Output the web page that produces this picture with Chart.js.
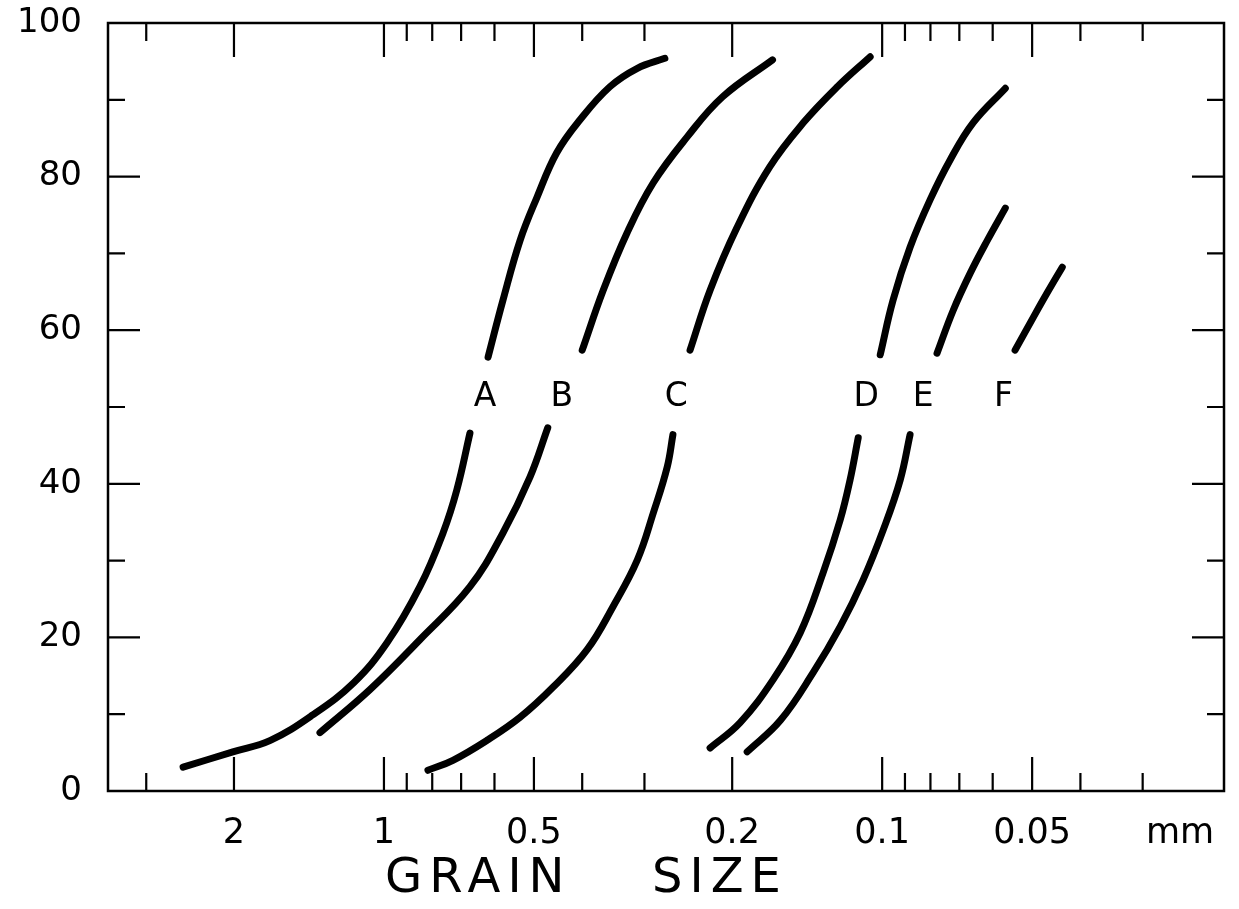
<!DOCTYPE html>
<html>
<head>
<meta charset="utf-8">
<script src="https://cdn.jsdelivr.net/npm/chart.js@4"></script>
<style>
  body { margin: 0; background: #fff; }
  canvas { display: block; }
</style>
</head>
<body>
<canvas id="grainChart" width="1239" height="909"></canvas>
<script>
// grain size (mm) vs cumulative percent
// each curve is broken around 50% where its letter sits
const curveA1 = [[2.53,3.1],[2.01,5.1],[1.69,6.6],[1.39,9.9],[1.15,14.1],[0.986,19.3],[0.847,26.6],[0.761,33.6],[0.714,39.2],[0.672,46.6]];
const curveA2 = [[0.618,56.5],[0.577,63.9],[0.533,71.7],[0.493,77.3],[0.450,83.1],[0.404,87.4],[0.352,91.7],[0.310,94.1],[0.273,95.4]];
const curveB1 = [[1.344,7.6],[1.067,13.2],[0.847,19.7],[0.672,26.6],[0.577,33.6],[0.509,40.9],[0.469,47.3]];
const curveB2 = [[0.400,57.4],[0.363,65.2],[0.325,72.7],[0.288,79.2],[0.246,85.2],[0.209,90.4],[0.166,95.2]];
const curveC1 = [[0.816,2.7],[0.727,4.0],[0.621,6.6],[0.533,9.6],[0.458,13.5],[0.391,18.4],[0.347,24.0],[0.310,30.1],[0.288,36.2],[0.270,42.2],[0.263,46.4]];
const curveC2 = [[0.243,57.4],[0.2215,65.2],[0.1955,73.4],[0.168,81.3],[0.144,87.0],[0.123,91.7],[0.1057,95.6]];
const curveD1 = [[0.2215,5.6],[0.1928,8.9],[0.1655,14.5],[0.146,20.6],[0.1314,28.4],[0.1214,35.3],[0.116,40.5],[0.1117,46.0]];
const curveD2 = [[0.1009,56.8],[0.0951,63.9],[0.0879,70.8],[0.0801,77.0],[0.0730,82.2],[0.0657,87.0],[0.0566,91.5]];
const curveE1 = [[0.1866,5.1],[0.160,9.2],[0.1376,15.4],[0.1214,21.4],[0.1092,27.5],[0.0995,34.0],[0.092,40.5],[0.0879,46.4]];
const curveE2 = [[0.0776,57.0],[0.0720,62.6],[0.0666,67.4],[0.0615,71.7],[0.0566,75.9]];
const curveF = [[0.0541,57.4],[0.0497,61.7],[0.0467,64.8],[0.0435,68.2]];

const curveNames = ["A", "B", "C", "D", "E", "F"];
const curveLabelSize = [0.627, 0.4395, 0.259, 0.1077, 0.0827, 0.0571];
const curveLabelPct = 51.3;

// x axis ticks (mm)
const xMajor = [2, 1, 0.5, 0.2, 0.1, 0.05];
const xMinor = [3, 0.9, 0.8, 0.7, 0.6, 0.4, 0.3, 0.09, 0.08, 0.07, 0.06, 0.04, 0.03];
const xLabels = ["2", "1", "0.5", "0.2", "0.1", "0.05"];
// y axis ticks (%)
const yTicks = [0, 10, 20, 30, 40, 50, 60, 70, 80, 90, 100];
const yLabels = ["0", "", "20", "", "40", "", "60", "", "80", "", "100"];

const FONT = "'DejaVu Sans', sans-serif";

function toPoints(arr) {
  return arr.map((p) => ({ x: p[0], y: p[1] }));
}

const segments = [curveA1, curveA2, curveB1, curveB2, curveC1, curveC2,
  curveD1, curveD2, curveE1, curveE2, curveF];

const datasets = segments.map((seg) => ({
  data: toPoints(seg),
  borderColor: "#000",
  borderWidth: 7,
  borderCapStyle: "round",
  borderJoinStyle: "round",
  pointRadius: 0,
  fill: false,
  tension: 0.4,
}));

// frame, inward ticks, curve letters, axis title
const decorations = {
  id: "decorations",
  afterDraw(chart) {
    const ctx = chart.ctx;
    const area = chart.chartArea;
    const xs = chart.scales.x;
    const ys = chart.scales.y;
    ctx.save();
    ctx.strokeStyle = "#000";
    ctx.lineWidth = 2.5;
    ctx.strokeRect(area.left, area.top, area.right - area.left, area.bottom - area.top);

    ctx.lineWidth = 2.2;
    ctx.beginPath();
    const allX = xMajor.map((v) => [v, 34]).concat(xMinor.map((v) => [v, 18]));
    allX.forEach(([v, len]) => {
      const px = xs.getPixelForValue(v);
      ctx.moveTo(px, area.bottom);
      ctx.lineTo(px, area.bottom - len);
      ctx.moveTo(px, area.top);
      ctx.lineTo(px, area.top + len);
    });
    yTicks.forEach((v) => {
      if (v === 0 || v === 100) return;
      const py = ys.getPixelForValue(v);
      const len = v % 20 === 0 ? 32 : 17;
      ctx.moveTo(area.left, py);
      ctx.lineTo(area.left + len, py);
      ctx.moveTo(area.right, py);
      ctx.lineTo(area.right - len, py);
    });
    ctx.stroke();

    ctx.fillStyle = "#000";
    ctx.textAlign = "center";
    ctx.textBaseline = "middle";
    ctx.font = "33px " + FONT;
    curveNames.forEach((name, i) => {
      ctx.fillText(name, xs.getPixelForValue(curveLabelSize[i]), ys.getPixelForValue(curveLabelPct));
    });

    ctx.font = "35px " + FONT;
    ctx.fillText("mm", 1180, 834);

    ctx.font = "48px " + FONT;
    ctx.letterSpacing = "7px";
    ctx.textAlign = "left";
    ctx.fillText("GRAIN", 385, 880);
    ctx.fillText("SIZE", 652, 880);
    ctx.restore();
  },
};

new Chart(document.getElementById("grainChart"), {
  type: "line",
  data: { datasets },
  options: {
    responsive: false,
    animation: false,
    layout: { padding: { left: 0, right: 15, top: 23, bottom: 0 } },
    plugins: { legend: { display: false }, tooltip: { enabled: false } },
    scales: {
      x: {
        type: "logarithmic",
        reverse: true,
        min: 0.0206,
        max: 3.58,
        border: { display: false },
        grid: { display: false, drawTicks: false },
        afterBuildTicks: (scale) => {
          scale.ticks = xMajor.map((v) => ({ value: v }));
        },
        afterFit: (scale) => { scale.height = 118; },
        ticks: {
          autoSkip: false,
          maxRotation: 0,
          padding: 22,
          color: "#000",
          font: { family: FONT, size: 35 },
          callback: (value) => {
            const i = xMajor.indexOf(value);
            return i >= 0 ? xLabels[i] : "";
          },
        },
      },
      y: {
        min: 0,
        max: 100,
        border: { display: false },
        // tick marks are drawn by the plugin; tickLength only spaces the labels
        grid: { display: false, drawTicks: true, tickLength: 26 },
        afterBuildTicks: (scale) => {
          scale.ticks = yTicks.map((v) => ({ value: v }));
        },
        afterFit: (scale) => { scale.width = 108; },
        ticks: {
          autoSkip: false,
          padding: 0,
          color: "#000",
          font: { family: FONT, size: 34, lineHeight: 1.1 },
          callback: (value) => yLabels[yTicks.indexOf(value)],
        },
      },
    },
  },
  plugins: [decorations],
});
</script>
</body>
</html>
